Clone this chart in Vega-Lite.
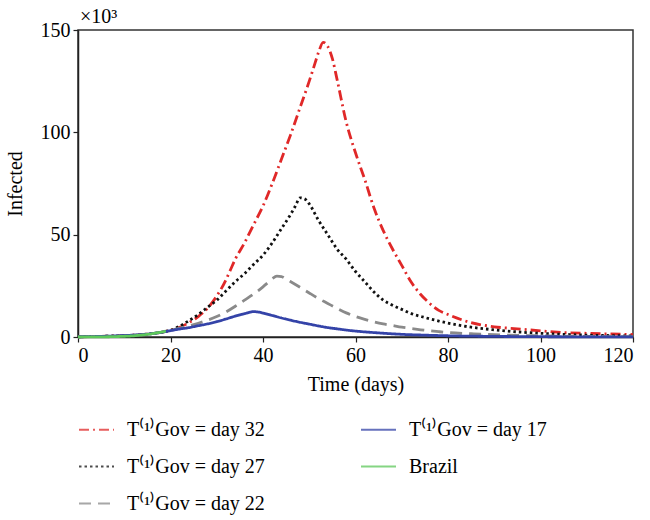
{
  "$schema": "https://vega.github.io/schema/vega-lite/v6.json",
  "width": 555,
  "height": 307,
  "autosize": {"type": "none"},
  "padding": {"left": 78, "top": 30, "right": 17, "bottom": 183},
  "background": "white",
  "title": {"text": "×10³", "anchor": "start", "frame": "group", "font": "Liberation Serif", "fontSize": 20, "fontWeight": "normal", "color": "black", "offset": 6, "dy": 13, "dx": 2},
  "config": {
    "view": {"stroke": "#333", "strokeWidth": 1.5},
    "axis": {"grid": false, "domainColor": "#222", "domainWidth": 1.5, "tickColor": "#222", "tickWidth": 1.2, "tickSize": 5, "labelColor": "black", "titleColor": "black", "labelFont": "Liberation Serif", "titleFont": "Liberation Serif", "labelFontSize": 20, "titleFontSize": 20, "titleFontWeight": "normal"},
    "legend": {"labelFont": "Liberation Serif", "labelFontSize": 20, "labelColor": "black"}
  },
  "data": {"values": [
    {"day":0,"v":0.1,"s":"32"},{"day":5,"v":0.3,"s":"32"},{"day":10,"v":0.7,"s":"32"},{"day":15,"v":1.4,"s":"32"},{"day":18,"v":2.3,"s":"32"},{"day":20,"v":3.3,"s":"32"},{"day":22,"v":4.8,"s":"32"},{"day":24,"v":7,"s":"32"},{"day":26,"v":10,"s":"32"},{"day":28,"v":14,"s":"32"},{"day":30,"v":20,"s":"32"},{"day":32,"v":28,"s":"32"},{"day":33,"v":33,"s":"32"},{"day":34,"v":38,"s":"32"},{"day":36,"v":46,"s":"32"},{"day":38,"v":55,"s":"32"},{"day":40,"v":64,"s":"32"},{"day":42,"v":75,"s":"32"},{"day":44,"v":87,"s":"32"},{"day":46,"v":99,"s":"32"},{"day":48,"v":112,"s":"32"},{"day":50,"v":125,"s":"32"},{"day":51,"v":132,"s":"32"},{"day":52,"v":139,"s":"32"},{"day":53,"v":144,"s":"32"},{"day":54,"v":142,"s":"32"},{"day":55,"v":136,"s":"32"},{"day":56,"v":126,"s":"32"},{"day":58,"v":105,"s":"32"},{"day":60,"v":90,"s":"32"},{"day":62,"v":77,"s":"32"},{"day":64,"v":63,"s":"32"},{"day":66,"v":52,"s":"32"},{"day":68,"v":43,"s":"32"},{"day":70,"v":35,"s":"32"},{"day":72,"v":27,"s":"32"},{"day":74,"v":21,"s":"32"},{"day":76,"v":16.5,"s":"32"},{"day":78,"v":13,"s":"32"},{"day":80,"v":11,"s":"32"},{"day":85,"v":7,"s":"32"},{"day":90,"v":5,"s":"32"},{"day":95,"v":4,"s":"32"},{"day":100,"v":3,"s":"32"},{"day":105,"v":2.2,"s":"32"},{"day":110,"v":1.8,"s":"32"},{"day":115,"v":1.5,"s":"32"},{"day":120,"v":1.2,"s":"32"},

    {"day":0,"v":0.1,"s":"27"},{"day":5,"v":0.3,"s":"27"},{"day":10,"v":0.7,"s":"27"},{"day":15,"v":1.4,"s":"27"},{"day":18,"v":2.3,"s":"27"},{"day":20,"v":3.3,"s":"27"},{"day":22,"v":5.3,"s":"27"},{"day":24,"v":8,"s":"27"},{"day":26,"v":11,"s":"27"},{"day":28,"v":14.5,"s":"27"},{"day":30,"v":18,"s":"27"},{"day":32,"v":22.5,"s":"27"},{"day":34,"v":27,"s":"27"},{"day":36,"v":31,"s":"27"},{"day":38,"v":35.5,"s":"27"},{"day":40,"v":40,"s":"27"},{"day":42,"v":46,"s":"27"},{"day":44,"v":53,"s":"27"},{"day":46,"v":60,"s":"27"},{"day":47,"v":64,"s":"27"},{"day":48,"v":68,"s":"27"},{"day":49,"v":67.5,"s":"27"},{"day":50,"v":65,"s":"27"},{"day":52,"v":57,"s":"27"},{"day":54,"v":50,"s":"27"},{"day":56,"v":43,"s":"27"},{"day":58,"v":38,"s":"27"},{"day":60,"v":32,"s":"27"},{"day":62,"v":27,"s":"27"},{"day":64,"v":22,"s":"27"},{"day":66,"v":18,"s":"27"},{"day":68,"v":15.5,"s":"27"},{"day":70,"v":13.5,"s":"27"},{"day":72,"v":11.5,"s":"27"},{"day":75,"v":9.5,"s":"27"},{"day":78,"v":7.8,"s":"27"},{"day":80,"v":6.8,"s":"27"},{"day":85,"v":4.8,"s":"27"},{"day":90,"v":3.5,"s":"27"},{"day":95,"v":2.5,"s":"27"},{"day":100,"v":1.8,"s":"27"},{"day":105,"v":1.3,"s":"27"},{"day":110,"v":0.9,"s":"27"},{"day":115,"v":0.7,"s":"27"},{"day":120,"v":0.5,"s":"27"},

    {"day":0,"v":0.1,"s":"22"},{"day":5,"v":0.3,"s":"22"},{"day":10,"v":0.7,"s":"22"},{"day":15,"v":1.4,"s":"22"},{"day":18,"v":2.3,"s":"22"},{"day":20,"v":3.2,"s":"22"},{"day":22,"v":4.3,"s":"22"},{"day":24,"v":5.4,"s":"22"},{"day":26,"v":6.7,"s":"22"},{"day":28,"v":8.2,"s":"22"},{"day":30,"v":10,"s":"22"},{"day":32,"v":12.2,"s":"22"},{"day":34,"v":15,"s":"22"},{"day":36,"v":18,"s":"22"},{"day":38,"v":21,"s":"22"},{"day":40,"v":24.5,"s":"22"},{"day":41,"v":26.5,"s":"22"},{"day":42,"v":28.5,"s":"22"},{"day":43,"v":29.7,"s":"22"},{"day":44,"v":29.5,"s":"22"},{"day":45,"v":28.3,"s":"22"},{"day":46,"v":27,"s":"22"},{"day":48,"v":24.3,"s":"22"},{"day":50,"v":21.5,"s":"22"},{"day":52,"v":18.8,"s":"22"},{"day":54,"v":16.4,"s":"22"},{"day":56,"v":14,"s":"22"},{"day":58,"v":11.8,"s":"22"},{"day":60,"v":10,"s":"22"},{"day":62,"v":8.6,"s":"22"},{"day":64,"v":7.4,"s":"22"},{"day":66,"v":6.4,"s":"22"},{"day":68,"v":5.6,"s":"22"},{"day":70,"v":4.8,"s":"22"},{"day":72,"v":4.2,"s":"22"},{"day":75,"v":3.3,"s":"22"},{"day":78,"v":2.6,"s":"22"},{"day":80,"v":2.2,"s":"22"},{"day":85,"v":1.6,"s":"22"},{"day":90,"v":1.1,"s":"22"},{"day":95,"v":0.8,"s":"22"},{"day":100,"v":0.6,"s":"22"},{"day":110,"v":0.3,"s":"22"},{"day":120,"v":0.2,"s":"22"},

    {"day":0,"v":0.1,"s":"17"},{"day":5,"v":0.3,"s":"17"},{"day":10,"v":0.7,"s":"17"},{"day":15,"v":1.4,"s":"17"},{"day":18,"v":2.3,"s":"17"},{"day":20,"v":3.1,"s":"17"},{"day":22,"v":3.9,"s":"17"},{"day":24,"v":4.6,"s":"17"},{"day":26,"v":5.5,"s":"17"},{"day":28,"v":6.4,"s":"17"},{"day":30,"v":7.5,"s":"17"},{"day":32,"v":8.8,"s":"17"},{"day":34,"v":10.2,"s":"17"},{"day":36,"v":11.4,"s":"17"},{"day":37,"v":12,"s":"17"},{"day":38,"v":12.4,"s":"17"},{"day":39,"v":12.2,"s":"17"},{"day":40,"v":11.7,"s":"17"},{"day":42,"v":10.5,"s":"17"},{"day":44,"v":9.3,"s":"17"},{"day":46,"v":8.2,"s":"17"},{"day":48,"v":7.2,"s":"17"},{"day":50,"v":6.3,"s":"17"},{"day":52,"v":5.4,"s":"17"},{"day":54,"v":4.6,"s":"17"},{"day":56,"v":4,"s":"17"},{"day":58,"v":3.4,"s":"17"},{"day":60,"v":2.9,"s":"17"},{"day":62,"v":2.5,"s":"17"},{"day":65,"v":2,"s":"17"},{"day":70,"v":1.3,"s":"17"},{"day":75,"v":0.9,"s":"17"},{"day":80,"v":0.6,"s":"17"},{"day":90,"v":0.3,"s":"17"},{"day":100,"v":0.15,"s":"17"},{"day":110,"v":0.08,"s":"17"},{"day":120,"v":0.05,"s":"17"},

    {"day":0,"v":0.01,"s":"Brazil"},{"day":2,"v":0.02,"s":"Brazil"},{"day":4,"v":0.05,"s":"Brazil"},{"day":6,"v":0.1,"s":"Brazil"},{"day":8,"v":0.2,"s":"Brazil"},{"day":10,"v":0.35,"s":"Brazil"},{"day":12,"v":0.6,"s":"Brazil"},{"day":13,"v":0.8,"s":"Brazil"},{"day":14,"v":1.0,"s":"Brazil"},{"day":15,"v":1.3,"s":"Brazil"},{"day":16,"v":1.6,"s":"Brazil"},{"day":17,"v":2.0,"s":"Brazil"},{"day":18,"v":2.4,"s":"Brazil"},{"day":19,"v":2.9,"s":"Brazil"}
  ]},
  "mark": {"type": "line", "strokeWidth": 2.8, "interpolate": "monotone"},
  "encoding": {
    "x": {"field": "day", "type": "quantitative", "title": "Time (days)", "scale": {"domain": [0, 120], "nice": false}, "axis": {"values": [0, 20, 40, 60, 80, 100, 120], "labelPadding": 3, "titlePadding": 9}},
    "y": {"field": "v", "type": "quantitative", "title": "Infected", "scale": {"domain": [0, 150], "nice": false}, "axis": {"values": [0, 50, 100, 150], "labelPadding": 3, "titlePadding": 15}},
    "color": {"field": "s", "type": "nominal", "title": null,
      "scale": {"domain": ["32", "17", "27", "Brazil", "22"], "range": ["#e02828", "#3443a8", "#111111", "#5dc85a", "#8a8a8a"]},
      "legend": {"orient": "bottom", "direction": "horizontal", "columns": 2, "offset": 17, "symbolType": "stroke", "symbolSize": 1225, "symbolStrokeWidth": 2, "symbolOpacity": 0.75, "rowPadding": 8, "columnPadding": 92, "labelOffset": 12,
        "labelExpr": "datum.value == 'Brazil' ? 'Brazil' : 'T⁽¹⁾Gov = day ' + datum.value"}},
    "strokeDash": {"field": "s", "type": "nominal", "title": null,
      "scale": {"domain": ["32", "17", "27", "Brazil", "22"], "range": [[10, 4, 2, 4], [1, 0], [2.5, 3], [1, 0], [12, 7]]},
      "legend": {"orient": "bottom", "direction": "horizontal", "columns": 2, "offset": 17, "symbolType": "stroke", "symbolSize": 1225, "symbolStrokeWidth": 2, "symbolOpacity": 0.75, "rowPadding": 8, "columnPadding": 92, "labelOffset": 12,
        "labelExpr": "datum.value == 'Brazil' ? 'Brazil' : 'T⁽¹⁾Gov = day ' + datum.value"}},
    "order": {"field": "day", "type": "quantitative"}
  }
}
